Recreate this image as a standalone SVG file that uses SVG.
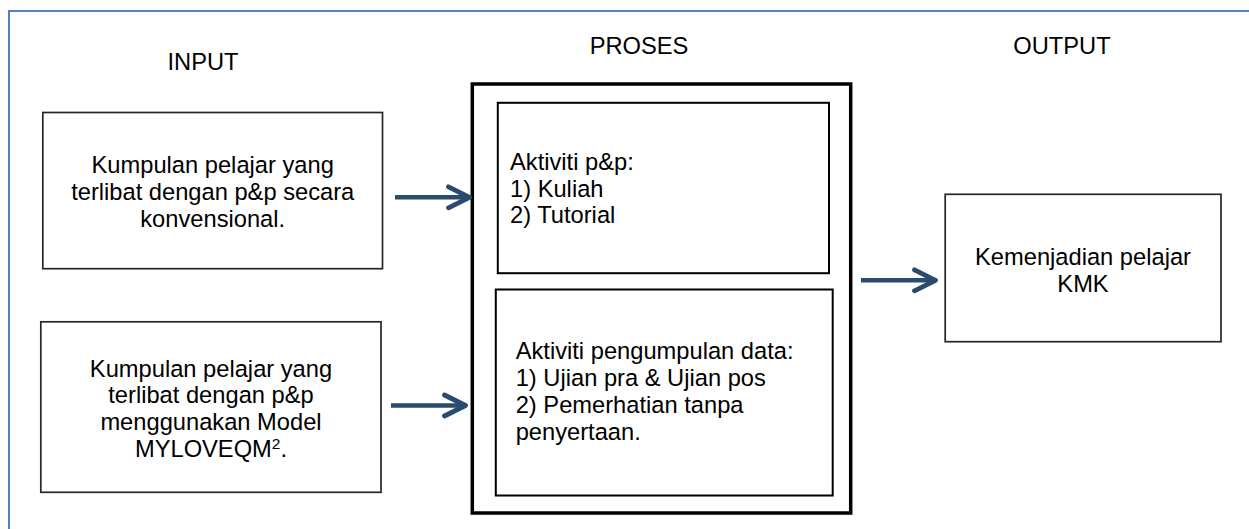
<svg xmlns="http://www.w3.org/2000/svg" width="1249" height="529" viewBox="0 0 1249 529">
  <style>
    text { font-family: "Liberation Sans", Arial, sans-serif; font-size: 23.7px; fill: #000; }
    .c { text-anchor: middle; }
    .frame { fill: none; stroke: #4F81BD; stroke-width: 2; }
    .box { fill: #fff; stroke: #262626; stroke-width: 1.7; }
    .inner { fill: #fff; stroke: #000; stroke-width: 2; }
    .outer { fill: #fff; stroke: #000; stroke-width: 3.5; }
    .arrow { stroke: #2A4A6E; stroke-width: 4.5; fill: none; marker-end: url(#chev); }
  </style>
  <defs>
    <marker id="chev" markerUnits="userSpaceOnUse" viewBox="-28 -16 32 32" markerWidth="32" markerHeight="32" refX="0" refY="0" orient="auto" overflow="visible">
      <path d="M-21,-10.5 L0,0 L-21,10.5" fill="none" stroke="#2A4A6E" stroke-width="4.8" stroke-linecap="round" stroke-linejoin="round"/>
    </marker>
  </defs>
  <rect width="1249" height="529" fill="#fff"/>
  <path class="frame" d="M9,535 L9,11 L1255,11"/>

  <g id="labels">
    <text class="c" x="203" y="70">INPUT</text>
    <text class="c" x="639" y="54">PROSES</text>
    <text class="c" x="1062" y="54">OUTPUT</text>
  </g>

  <g id="input1">
    <rect class="box" x="42.8" y="112.5" width="339.7" height="156.2"/>
    <text class="c" x="212.7" y="173.3">Kumpulan pelajar yang</text>
    <text class="c" x="212.7" y="200">terlibat dengan p&amp;p secara</text>
    <text class="c" x="212.7" y="226.5">konvensional.</text>
  </g>

  <g id="input2">
    <rect class="box" x="40.8" y="321.8" width="340.2" height="170.5"/>
    <text class="c" x="211" y="376.7">Kumpulan pelajar yang</text>
    <text class="c" x="211" y="403.3">terlibat dengan p&amp;p</text>
    <text class="c" x="211" y="430">menggunakan Model</text>
    <text class="c" x="211" y="456.7">MYLOVEQM<tspan font-size="15.5" dy="-8">2</tspan><tspan dy="8">.</tspan></text>
  </g>

  <g id="proses">
    <rect class="outer" x="472.3" y="84" width="378.4" height="429"/>
  </g>

  <g id="proses1">
    <rect class="inner" x="497.8" y="102.8" width="331.2" height="170.4"/>
    <text x="510" y="170">Aktiviti p&amp;p:</text>
    <text x="510" y="196.5">1) Kuliah</text>
    <text x="510" y="223">2) Tutorial</text>
  </g>

  <g id="proses2">
    <rect class="inner" x="495.8" y="289.5" width="336.9" height="206"/>
    <text x="515.7" y="359">Aktiviti pengumpulan data:</text>
    <text x="515.7" y="386">1) Ujian pra &amp; Ujian pos</text>
    <text x="515.7" y="412.5">2) Pemerhatian tanpa</text>
    <text x="515.7" y="439.5">penyertaan.</text>
  </g>

  <g id="output">
    <rect class="box" x="945.2" y="194.3" width="275.8" height="147.4"/>
    <text class="c" x="1083" y="265">Kemenjadian pelajar</text>
    <text class="c" x="1083" y="291.7">KMK</text>
  </g>

  <g id="connectors">
    <path class="arrow" d="M395,197.3 L469.5,197.3"/>
    <path class="arrow" d="M391,405.5 L465.5,405.5"/>
    <path class="arrow" d="M861,280.3 L935.5,280.3"/>
  </g>
</svg>
